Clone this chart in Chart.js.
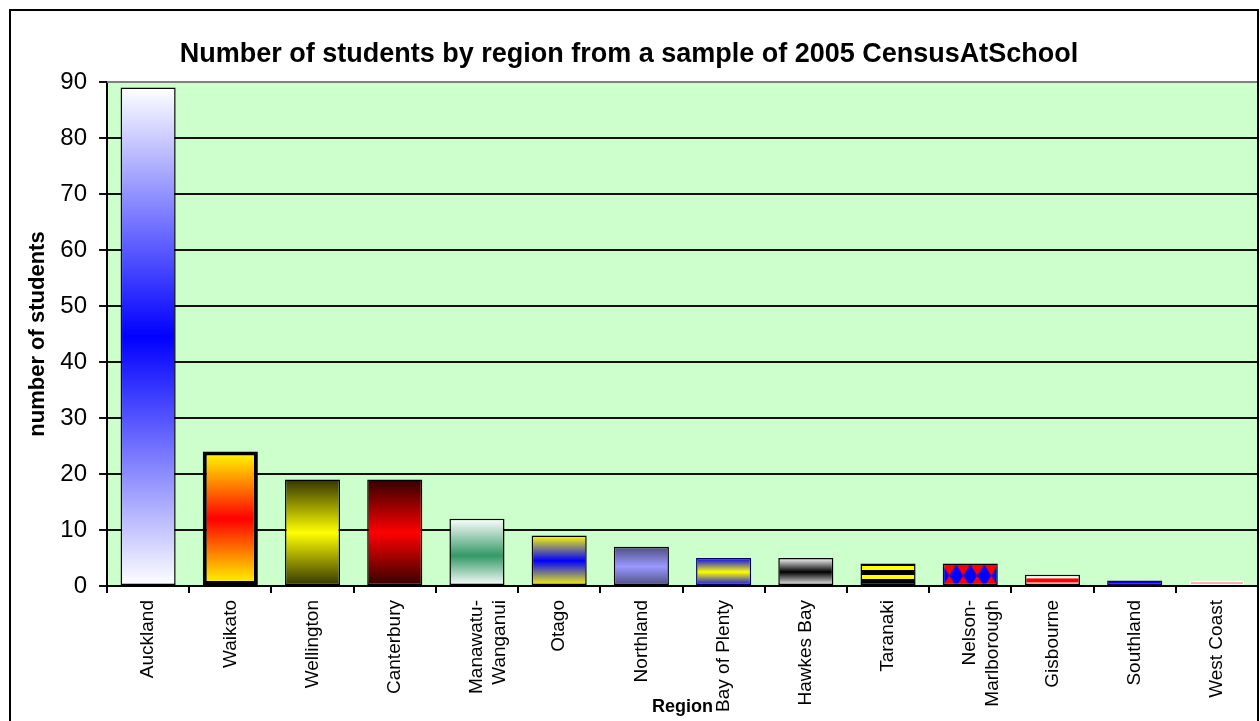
<!DOCTYPE html>
<html>
<head>
<meta charset="utf-8">
<script src="https://cdn.jsdelivr.net/npm/chart.js@4.4.1/dist/chart.umd.min.js"></script>
<style>
  html, body { margin: 0; padding: 0; background: #fff; }
  #wrap { position: relative; width: 1260px; height: 721px; }
</style>
</head>
<body>
<div id="wrap"><canvas id="regionChart"></canvas></div>
<script>
const regions = ['Auckland', 'Waikato', 'Wellington', 'Canterbury', ['Manawatu-', 'Wanganui'], 'Otago',
  'Northland', 'Bay of Plenty', 'Hawkes Bay', 'Taranaki', ['Nelson-', 'Marlborough'], 'Gisbourne',
  'Southland', 'West Coast'];
const students = [89, 24, 19, 19, 12, 9, 7, 5, 5, 4, 4, 2, 1, 1];
const yTickValues = [0, 10, 20, 30, 40, 50, 60, 70, 80, 90];

// fill of each bar, top to bottom (offset, colour)
const barFills = [
  [[0, '#ffffff'], [0.5, '#0000ff'], [1, '#ffffff']],
  [[0, '#ffff00'], [0.5, '#ff0000'], [1, '#ffff00']],
  [[0, '#333300'], [0.5, '#ffff00'], [1, '#333300']],
  [[0, '#330000'], [0.5, '#ff0000'], [1, '#330000']],
  [[0, '#ffffff'], [0.55, '#339966'], [1, '#ffffff']],
  [[0, '#ffff00'], [0.5, '#0000ff'], [1, '#ffff00']],
  [[0, '#4d4d80'], [0.5, '#9999ff'], [1, '#4d4d80']],
  [[0, '#0000ff'], [0.5, '#ffff00'], [1, '#0000ff']],
  [[0, '#ffffff'], [0.5, '#000000'], [1, '#ffffff']],
  [[0, '#000000'], [0.1, '#000000'], [0.1, '#ffff00'], [0.28, '#ffff00'], [0.28, '#000000'], [0.49, '#000000'],
   [0.49, '#ffff00'], [0.69, '#ffff00'], [0.69, '#000000'], [1, '#000000']],
  'diamonds',
  [[0, '#ffffff'], [0.25, '#ffffff'], [0.38, '#ff0000'], [0.62, '#ff0000'], [0.75, '#ffffff'], [1, '#ffffff']],
  [[0, '#0000ff'], [1, '#0000ff']],
  [[0, '#ffffff'], [0.3, '#ffffff'], [0.45, '#ff6666'], [0.65, '#ff6666'], [0.8, '#ffffff'], [1, '#ffffff']]
];
const barBorders = ['#000', '#000', '#000', '#000', '#000', '#000', '#000', '#000066', '#000', '#000', '#000', '#000', '#220044', '#ffffff'];
const barBorderWidths = [1.5, 4, 1.5, 1.5, 1.5, 1.5, 1.5, 1.5, 1.5, 1.5, 1.5, 1.5, 1.5, 1.5];

const FONT = '"Liberation Sans", Arial, sans-serif';

let diamondTile = null;
function diamondPattern(c, xc, top) {
  if (!diamondTile) {
    diamondTile = document.createElement('canvas');
    diamondTile.width = 14; diamondTile.height = 22;
    const t = diamondTile.getContext('2d');
    t.fillStyle = '#ff0000';
    t.fillRect(0, 0, 14, 22);
    t.fillStyle = '#0000ff';
    t.beginPath();
    t.moveTo(7, 0); t.lineTo(14, 11); t.lineTo(7, 22); t.lineTo(0, 11);
    t.closePath();
    t.fill();
  }
  const p = c.createPattern(diamondTile, 'repeat');
  p.setTransform(new DOMMatrix().translate(xc - 7, top + 1));
  return p;
}

function barFill(ctx) {
  if (ctx.type !== 'data') return 'transparent';
  const chart = ctx.chart;
  const y = chart.scales.y, x = chart.scales.x;
  if (!y || !x || !chart.chartArea) return 'transparent';
  const top = y.getPixelForValue(ctx.raw);
  const base = y.getPixelForValue(0);
  const fill = barFills[ctx.dataIndex];
  if (fill === 'diamonds') return diamondPattern(chart.ctx, x.getPixelForValue(ctx.dataIndex), top);
  const g = chart.ctx.createLinearGradient(0, top, 0, base);
  fill.forEach(([o, col]) => g.addColorStop(o, col));
  return g;
}

// green plot area, grey top/right edge, outer frame
const plotDecor = {
  id: 'plotDecor',
  beforeDraw(chart) {
    const { ctx, chartArea: a } = chart;
    ctx.save();
    ctx.fillStyle = '#ccffcc';
    ctx.fillRect(a.left, a.top, a.right - a.left, a.bottom - a.top);
    ctx.restore();
  },
  beforeDatasetsDraw(chart) {
    const { ctx, chartArea: a } = chart;
    ctx.save();
    ctx.strokeStyle = '#808080';
    ctx.lineWidth = 2;
    ctx.beginPath();
    ctx.moveTo(a.left, a.top);
    ctx.lineTo(a.right, a.top);
    ctx.lineTo(a.right, a.bottom);
    ctx.stroke();
    ctx.restore();
  },
  afterDraw(chart) {
    const ctx = chart.ctx;
    ctx.save();
    ctx.strokeStyle = '#000';
    ctx.lineWidth = 2;
    ctx.strokeRect(10, 10, 1248, 730);
    ctx.restore();
  }
};

new Chart(document.getElementById('regionChart'), {
  type: 'bar',
  data: {
    labels: regions,
    datasets: [{
      data: students,
      backgroundColor: barFill,
      borderColor: barBorders,
      borderWidth: barBorderWidths,
      borderSkipped: false,
      categoryPercentage: 1,
      barPercentage: 0.67
    }]
  },
  options: {
    responsive: true,
    maintainAspectRatio: false,
    animation: false,
    layout: { padding: { left: 0, right: 2, top: 0, bottom: 0 } },
    plugins: {
      legend: { display: false },
      tooltip: { enabled: false },
      title: {
        display: true,
        text: 'Number of students by region from a sample of 2005 CensusAtSchool',
        color: '#000',
        font: { family: FONT, size: 27, weight: 'bold' },
        padding: { top: 38, bottom: 11.6 }
      }
    },
    scales: {
      x: {
        afterFit: s => { s.height = 135; },
        grid: { display: true, drawOnChartArea: false, offset: true, color: '#000', lineWidth: 2, tickLength: 7 },
        border: { display: true, color: '#000', width: 2 },
        ticks: {
          autoSkip: false, minRotation: 90, maxRotation: 90, padding: 7,
          color: '#000', font: { family: FONT, size: 19 }
        },
        title: {
          display: true, text: 'Region', color: '#000',
          font: { family: FONT, size: 18, weight: 'bold' },
          padding: { top: 0, bottom: 3 }
        }
      },
      y: {
        min: 0, max: 90,
        afterFit: s => { s.width = 107; },
        afterBuildTicks: s => { s.ticks = yTickValues.map(v => ({ value: v })); },
        grid: { color: '#111', lineWidth: 2, tickLength: 8 },
        border: { display: true, color: '#000', width: 2 },
        ticks: { color: '#000', padding: 12, font: { family: FONT, size: 24 } },
        title: {
          display: true, text: 'number of students', color: '#000',
          font: { family: FONT, size: 22, weight: 'bold' },
          padding: { top: 25, bottom: 0 }
        }
      }
    }
  },
  plugins: [plotDecor]
});
</script>
</body>
</html>
